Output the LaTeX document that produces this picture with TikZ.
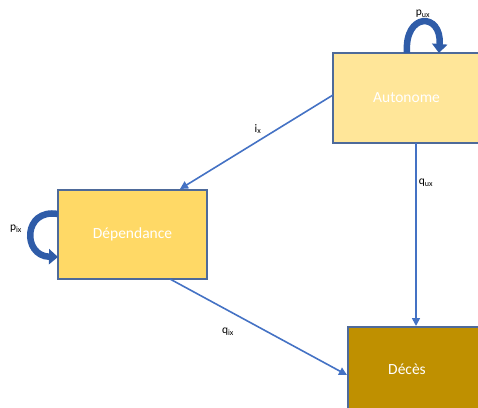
\documentclass[tikz,border=0pt]{standalone}
\usepackage{fontspec}
\setmainfont{Carlito}
\usetikzlibrary{arrows.meta}
\definecolor{bord}{HTML}{4E6A9A}
\definecolor{autof}{HTML}{FFE699}
\definecolor{depf}{HTML}{FFD966}
\definecolor{decf}{HTML}{BF9000}
\definecolor{arr}{HTML}{4472C4}
\definecolor{loopc}{HTML}{2F5CA8}
\tikzset{
  box/.style={draw=bord, line width=1.2pt, inner sep=0pt, text=white, font=\fontsize{15.5}{18}\selectfont},
  conn/.style={draw=arr, line width=1.6pt, -{Triangle[width=8pt,length=8pt]}},
  selfloop/.style={draw=loopc, line width=6.5pt, -{Triangle[width=15pt,length=9pt]}},
  lab/.style={font=\fontsize{11.5}{13}\selectfont, text=black, inner sep=0pt}
}
\begin{document}
\begin{tikzpicture}[x=1pt,y=-1pt]
\useasboundingbox (0,0) rectangle (478,407);
\clip (0,0) rectangle (478,407);
\node[box, fill=autof, minimum width=147pt, minimum height=90pt] (auto) at (406.5,98) {Autonome};
\node[box, fill=depf, minimum width=149pt, minimum height=89pt] (dep) at (132.5,234.5) {Dépendance};
\node[box, fill=decf, minimum width=134pt, minimum height=84pt] (dec) at (415,369) {};
\node[box, draw=none, fill=none] (dect) at (407,369) {Décès};
% connectors
\coordinate (a1) at (333,95);
\coordinate (d1) at (180,189);
\draw[conn] (a1) -- (d1);
\coordinate (a2) at (416,143);
\coordinate (e2) at (416,326);
\draw[conn] (a2) -- (e2);
\coordinate (d3) at (170,279);
\coordinate (e3) at (347,375);
\draw[conn] (d3) -- (e3);
% labels
\node[lab] (li) at (258,129) {i\textsubscript{x}};
\node[lab] (lqu) at (426,183) {q\textsubscript{ux}};
\node[lab] (lqi) at (228,332) {q\textsubscript{ix}};
\node[lab] (lpu) at (423,14) {p\textsubscript{ux}};
\node[lab] (lpi) at (16,229) {p\textsubscript{ix}};
% self loops
\coordinate (s1) at (407,53);
\coordinate (t1) at (439,53);
\draw[selfloop] (s1) .. controls (404,12) and (442,12) .. (t1);
\coordinate (s2) at (58,214);
\coordinate (t2) at (58,257);
\draw[selfloop] (s2) .. controls (23,208) and (22,256) .. (t2);
\end{tikzpicture}
\end{document}
